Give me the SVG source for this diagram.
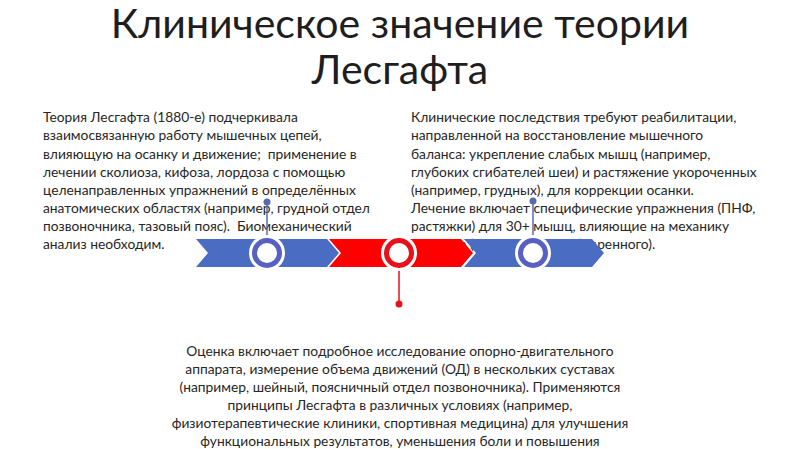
<svg xmlns="http://www.w3.org/2000/svg" width="800" height="449" viewBox="0 0 800 449">
<style>
.title{font-family:Lato,"Liberation Sans",sans-serif;font-size:41px;fill:#1e1e1e;text-anchor:middle}
.body{font-family:Lato,"Liberation Sans",sans-serif;font-size:13.8px;fill:#262626;white-space:pre}
.mid{text-anchor:middle}
.blue{fill:#4a6cc3}
.red{fill:#ff0000}
.halo{fill:#ffffff}
.ringb{fill:#ffffff;stroke:#5860c4;stroke-width:5}
.ringr{fill:#ffffff;stroke:#e8101c;stroke-width:5}
.lb{stroke:#5a6aa8;stroke-width:1.5}
.lr{stroke:#e8101c;stroke-width:1.5}
.db{fill:#5a6aa8}
.dr{fill:#e8101c}
</style>
<rect width="800" height="449" fill="#ffffff"/>
<g id="title">
<text class="title" x="400" y="38">Клиническое значение теории</text>
<text class="title" x="400" y="84">Лесгафта</text>
</g>
<g id="text-left">
<text class="body" x="43" y="122">Теория Лесгафта (1880-е) подчеркивала</text>
<text class="body" x="43" y="140">взаимосвязанную работу мышечных цепей,</text>
<text class="body" x="43" y="159" xml:space="preserve">влияющую на осанку и движение;  применение в</text>
<text class="body" x="43" y="177">лечении сколиоза, кифоза, лордоза с помощью</text>
<text class="body" x="43" y="195">целенаправленных упражнений в определённых</text>
<text class="body" x="43" y="213">анатомических областях (например, грудной отдел</text>
<text class="body" x="43" y="231" xml:space="preserve">позвоночника, тазовый пояс).  Биомеханический</text>
<text class="body" x="43" y="249">анализ необходим.</text>
</g>
<g id="text-right">
<text class="body" x="411" y="122">Клинические последствия требуют реабилитации,</text>
<text class="body" x="411" y="140">направленной на восстановление мышечного</text>
<text class="body" x="411" y="159">баланса: укрепление слабых мышц (например,</text>
<text class="body" x="411" y="177">глубоких сгибателей шеи) и растяжение укороченных</text>
<text class="body" x="411" y="195">(например, грудных), для коррекции осанки.</text>
<text class="body" x="411" y="213">Лечение включает специфические упражнения (ПНФ,</text>
<text class="body" x="411" y="231">растяжки) для 30+ мышц, влияющие на механику</text>
<text class="body" x="411" y="249">суставов (плечевого, тазобедренного).</text>
</g>
<g id="text-bottom">
<text class="body mid" x="400" y="356">Оценка включает подробное исследование опорно-двигательного</text>
<text class="body mid" x="400" y="374">аппарата, измерение объема движений (ОД) в нескольких суставах</text>
<text class="body mid" x="400" y="392">(например, шейный, поясничный отдел позвоночника). Применяются</text>
<text class="body mid" x="400" y="410">принципы Лесгафта в различных условиях (например,</text>
<text class="body mid" x="400" y="428">физиотерапевтические клиники, спортивная медицина) для улучшения</text>
<text class="body mid" x="400" y="446">функциональных результатов, уменьшения боли и повышения</text>
</g>
<g id="timeline">
<polygon id="chevron1" class="blue" points="196,239 327,239 339,253 327,267 196,267 208,253"/>
<polygon id="chevron2" class="red" points="329,239 461,239 473,253 461,267 329,267 341,253"/>
<polygon id="chevron3" class="blue" points="464,239 592,239 604,253 592,267 464,267 476,253"/>
</g>
<g id="connectors">
<line class="lb" x1="267" y1="202" x2="267" y2="240"/>
<line class="lb" x1="533" y1="201" x2="533" y2="240"/>
<line class="lr" x1="399" y1="266" x2="399" y2="304"/>
<circle class="db" cx="267" cy="202" r="3.5"/>
<circle class="db" cx="533" cy="201" r="3.5"/>
<circle class="dr" cx="399" cy="304" r="3.5"/>
</g>
<g id="node1">
<circle class="halo" cx="267" cy="253" r="18"/>
<circle class="ringb" cx="267" cy="253" r="12.5"/>
</g>
<g id="node2">
<circle class="halo" cx="399" cy="253" r="18"/>
<circle class="ringr" cx="399" cy="253" r="12.5"/>
</g>
<g id="node3">
<circle class="halo" cx="533" cy="253" r="18"/>
<circle class="ringb" cx="533" cy="253" r="12.5"/>
</g>
</svg>
